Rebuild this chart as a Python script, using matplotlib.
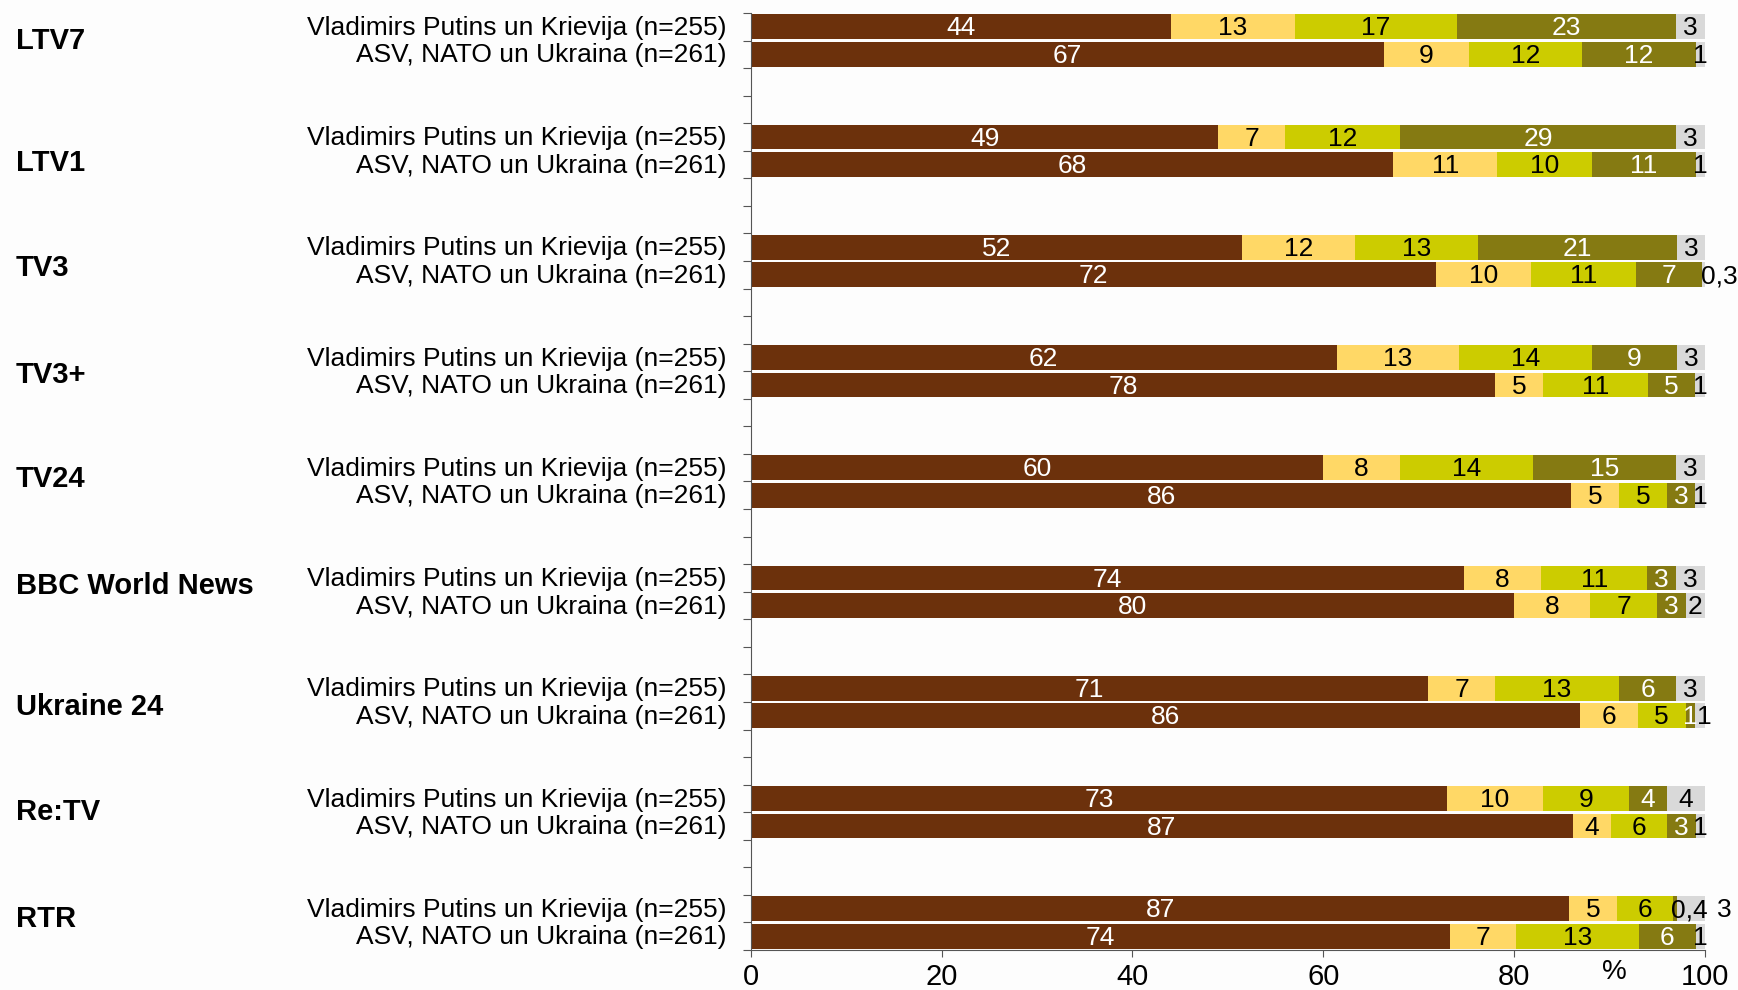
import matplotlib
matplotlib.use('Agg')
import matplotlib.pyplot as plt
import numpy as np

plt.rcParams['font.family'] = ['Liberation Sans', 'DejaVu Sans']

channels = ['LTV7', 'LTV1', 'TV3', 'TV3+', 'TV24', 'BBC World News',
            'Ukraine 24', 'Re:TV', 'RTR']
rows = ['Vladimirs Putins un Krievija (n=255)', 'ASV, NATO un Ukraina (n=261)']

# five answer shares per bar, in %
putins = [
    [44, 13, 17, 23, 3],
    [49, 7, 12, 29, 3],
    [52, 12, 13, 21, 3],
    [62, 13, 14, 9, 3],
    [60, 8, 14, 15, 3],
    [74, 8, 11, 3, 3],
    [71, 7, 13, 6, 3],
    [73, 10, 9, 4, 4],
    [87, 5, 6, 0.4, 3],
]
asv = [
    [67, 9, 12, 12, 1],
    [68, 11, 10, 11, 1],
    [72, 10, 11, 7, 0.3],
    [78, 5, 11, 5, 1],
    [86, 5, 5, 3, 1],
    [80, 8, 7, 3, 2],
    [86, 6, 5, 1, 1],
    [87, 4, 6, 3, 1],
    [74, 7, 13, 6, 1],
]

colors = ['#6c310c', '#ffd866', '#cccc00', '#857a12', '#d9d9d9']
text_colors = ['white', 'black', 'black', 'white', 'black']

# channel name vertical offset inside its group (slot units)
name_offset = [0.53, 0.95, 0.77, 0.64, 0.42, 0.28, 0.67, 0.49, 0.36]

# manual label x positions for crowded segments: (channel, row, segment) -> (x, ha)
label_pos = {
    (2, 1, 4): (99.6, 'left'),
    (6, 1, 4): (99.9, 'center'),
    (8, 0, 3): (98.4, 'center'),
    (8, 0, 4): (102.0, 'center'),
}

fig = plt.figure(figsize=(17.38, 9.9), dpi=100)
fig.patch.set_facecolor('#fdfdfd')
ax = fig.add_axes([0.432, 0.0404, 0.549, 0.9465])
ax.set_facecolor('#fdfdfd')

for g, ch in enumerate(channels):
    for r, data in enumerate([putins, asv]):
        vals = np.array(data[g], dtype=float)
        vals = vals / vals.sum() * 100
        y = 4 * g + r
        left = 0
        for s, v in enumerate(vals):
            ax.barh(y, v, left=left, height=0.9, color=colors[s], edgecolor='none')
            raw = data[g][s]
            txt = ('%g' % raw).replace('.', ',')
            x, ha = label_pos.get((g, r, s), (left + v / 2, 'center'))
            tc = 'black' if raw < 1 else text_colors[s]
            ax.text(x, y + 0.06, txt, ha=ha, va='center', color=tc, fontsize=19,
                    clip_on=False)
            left += v
        ax.text(-0.026, y + 0.04, rows[r], transform=ax.get_yaxis_transform(),
                ha='right', va='center', fontsize=19)
    ax.text(-0.77, 4 * g + name_offset[g], ch, transform=ax.get_yaxis_transform(),
            ha='left', va='center', fontsize=21, fontweight='bold')

ax.set_xlim(0, 100)
ax.set_ylim(33.5, -0.5)
ax.set_yticks(np.arange(-0.5, 34, 1))
ax.set_yticklabels([])
ax.set_xticks(np.arange(0, 101, 20))
ax.tick_params(axis='x', labelsize=21, length=5, color='#555555', pad=4)
ax.tick_params(axis='y', length=6, color='#555555')
for side in ['top', 'right']:
    ax.spines[side].set_visible(False)
for side in ['left', 'bottom']:
    ax.spines[side].set_color('#555555')
ax.text(90.5, -0.01, '%', transform=ax.get_xaxis_transform(), ha='center',
        va='top', fontsize=20)

plt.savefig('out.png', dpi=100, facecolor=fig.get_facecolor())
